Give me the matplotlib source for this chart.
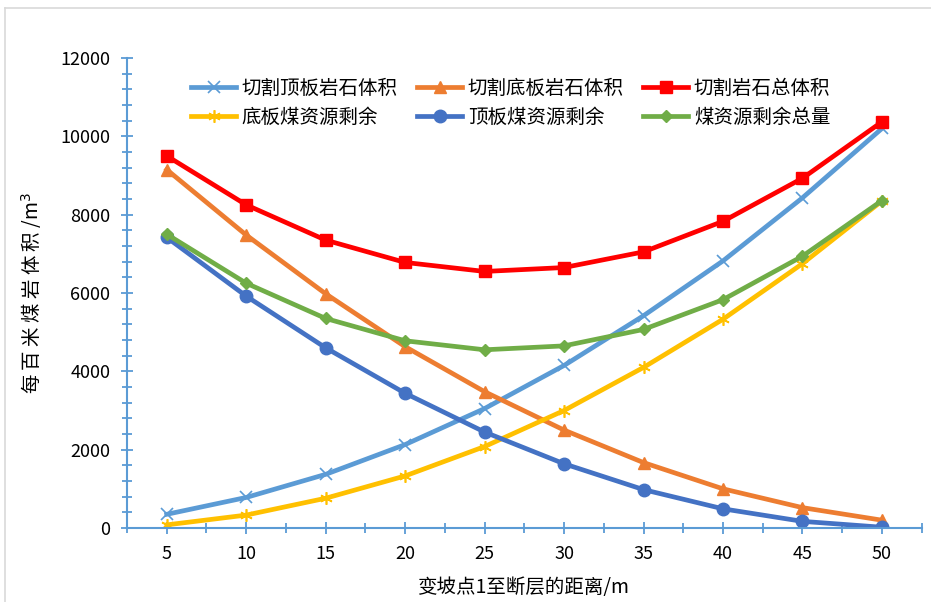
import numpy as np
import matplotlib.pyplot as plt
from matplotlib.ticker import MultipleLocator, FixedLocator

plt.rcParams['font.family'] = ['Noto Sans CJK SC', 'DejaVu Sans']

# data
dist = [5, 10, 15, 20, 25, 30, 35, 40, 45, 50]
top_rock = [350, 780, 1370, 2130, 3050, 4150, 5420, 6820, 8430, 10200]
bottom_rock = [9150, 7480, 5980, 4630, 3480, 2500, 1670, 1000, 520, 200]
total_rock = [9500, 8250, 7350, 6780, 6550, 6650, 7050, 7830, 8930, 10370]
bottom_coal = [80, 330, 760, 1330, 2080, 3000, 4100, 5330, 6750, 8350]
top_coal = [7420, 5920, 4600, 3440, 2450, 1640, 980, 490, 170, 20]
total_coal = [7500, 6250, 5350, 4780, 4550, 4650, 5070, 5830, 6940, 8360]

labels = ["切割顶板岩石体积", "切割底板岩石体积", "切割岩石总体积",
          "底板煤资源剩余", "顶板煤资源剩余", "煤资源剩余总量"]

fig = plt.figure(figsize=(9.31, 6.02), dpi=100)
ax = fig.add_axes([0.1364, 0.1229, 0.8536, 0.7808])

# light frame around the picture
fig.add_artist(plt.Line2D([0.005, 1.0], [0.987, 0.987], color="#d9d9d9", lw=1.2))
fig.add_artist(plt.Line2D([0.005, 0.005], [0.0, 0.987], color="#d9d9d9", lw=1.2))

lw = 3.4
ax.plot(dist, top_rock, color="#5B9BD5", lw=lw, marker="x", ms=8, mew=1.2, label=labels[0])
ax.plot(dist, bottom_rock, color="#ED7D31", lw=lw, marker="^", ms=9, label=labels[1])
ax.plot(dist, total_rock, color="#FF0000", lw=lw, marker="s", ms=9, label=labels[2])
ax.plot(dist, bottom_coal, color="#FFC000", lw=lw, marker=(6, 2, 0), ms=9, mew=1.2, label=labels[3])
ax.plot(dist, top_coal, color="#4472C4", lw=lw, marker="o", ms=9, label=labels[4])
ax.plot(dist, total_coal, color="#70AD47", lw=lw, marker="D", ms=6, label=labels[5])

# axes
ax.set_xlim(2.5, 52.5)
ax.set_ylim(0, 12000)
ax.xaxis.set_major_locator(FixedLocator(dist))
ax.xaxis.set_minor_locator(MultipleLocator(2.5))
ax.yaxis.set_major_locator(MultipleLocator(2000))
ax.yaxis.set_minor_locator(MultipleLocator(400))

for s in ["top", "right"]:
    ax.spines[s].set_visible(False)
for s in ["left", "bottom"]:
    ax.spines[s].set_color("#5B9BD5")
    ax.spines[s].set_linewidth(1.5)

ax.tick_params(axis="both", which="both", color="#5B9BD5", width=1.3, direction="inout")
ax.tick_params(axis="both", which="major", length=8, labelsize=13)
ax.tick_params(axis="both", which="minor", length=7)
ax.tick_params(axis="y", pad=8)
ax.tick_params(axis="x", pad=8)

# labels
ax.set_xlabel("变坡点1至断层的距离/m", fontsize=14, labelpad=10)
ax.set_ylabel("每 百 米 煤 岩 体 积 /m$^3$", fontsize=14, labelpad=12)

# legend filled row by row
handles, names = ax.get_legend_handles_labels()
order = [0, 3, 1, 4, 2, 5]
ax.legend([handles[i] for i in order], [names[i] for i in order],
          loc="upper center", bbox_to_anchor=(0.483, 0.995), ncol=3, frameon=False,
          fontsize=14, handlelength=2.3, handletextpad=0.3, columnspacing=1.0,
          labelspacing=0.4)

plt.savefig("out.png", dpi=100)
